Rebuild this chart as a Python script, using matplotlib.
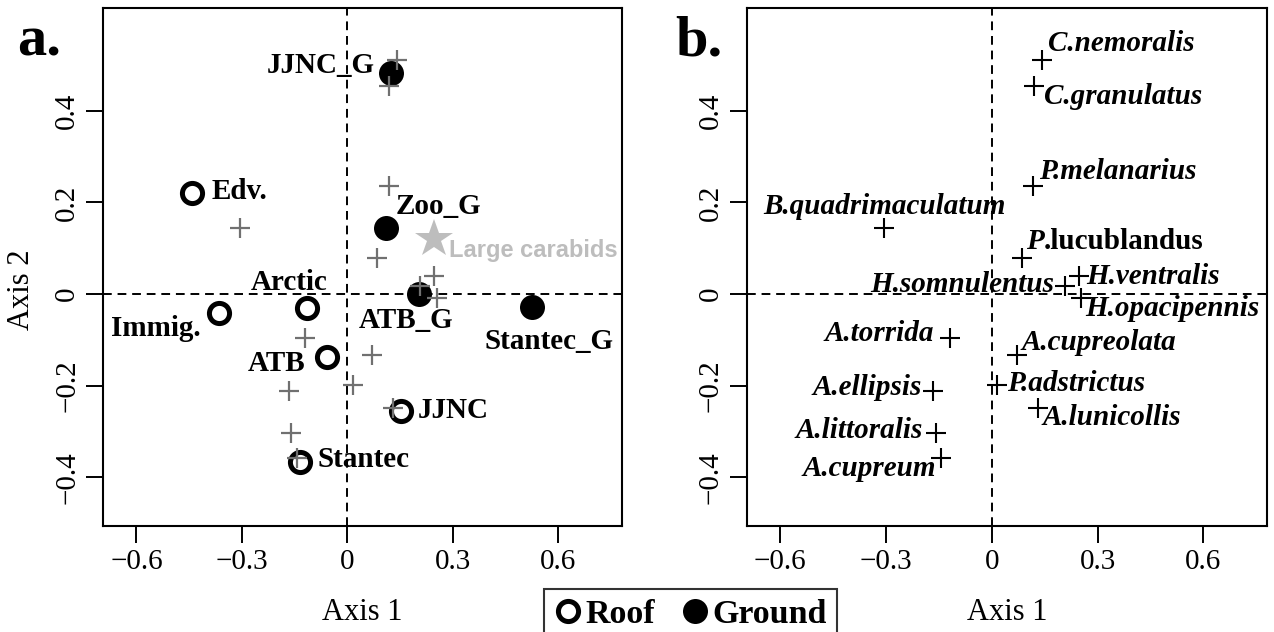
import matplotlib
matplotlib.use("Agg")
import matplotlib.pyplot as plt
from matplotlib.lines import Line2D

plt.rcParams['font.family'] = ['Liberation Serif', 'DejaVu Serif']

# sites (panel a)
roof_names = ["Edv.", "Immig.", "Arctic", "ATB", "JJNC", "Stantec"]
roof_x = [-0.441, -0.366, -0.114, -0.058, 0.153, -0.134]
roof_y = [0.221, -0.042, -0.030, -0.137, -0.256, -0.366]
ground_names = ["JJNC_G", "Zoo_G", "ATB_G", "Stantec_G"]
ground_x = [0.125, 0.111, 0.203, 0.526]
ground_y = [0.482, 0.144, 0.001, -0.029]

# species (panel b, grey crosses in panel a)
species = ["C.nemoralis", "C.granulatus", "P.melanarius", "B.quadrimaculatum",
           "P.lucublandus", "H.somnulentus", "H.ventralis", "H.opacipennis",
           "A.torrida", "A.cupreolata", "A.ellipsis", "P.adstrictus",
           "A.lunicollis", "A.littoralis", "A.cupreum"]
sp_x = [0.141, 0.120, 0.118, -0.305, 0.086, 0.207, 0.248, 0.254,
        -0.119, 0.071, -0.167, 0.015, 0.130, -0.159, -0.143]
sp_y = [0.511, 0.455, 0.235, 0.144, 0.078, 0.018, 0.039, -0.009,
        -0.097, -0.133, -0.211, -0.199, -0.248, -0.303, -0.359]

star_x = [0.246]
star_y = [0.120]
star_label = "Large carabids"

xticks = [-0.6, -0.3, 0, 0.3, 0.6]
xticklabels = ["\u22120.6", "\u22120.3", "0", "0.3", "0.6"]
yticks = [-0.4, -0.2, 0, 0.2, 0.4]
yticklabels = ["\u22120.4", "\u22120.2", "0", "0.2", "0.4"]

# label placement: (dx, dy) in points, horizontal alignment
roof_off = [(14.1, 0.7, 'left'), (-12.7, -10.8, 'right'), (-13, 18, 'center'),
            (-15.5, -4.8, 'right'), (11.7, 0.7, 'left'), (12.7, 1.7, 'left')]
ground_off = [(-11.5, 5.8, 'right'), (6.5, 15.5, 'left'), (-9.1, -19.7, 'center'),
              (12.1, -24.8, 'center')]
sp_off = [(4.3, 12, 'left'), (7.2, -7.7, 'left'), (4, 10.4, 'left'), (0, 15.5, 'center'),
          (2.7, 12, 'left'), (-7.9, 0.7, 'right'), (5.3, 0, 'left'), (2.6, -7.2, 'left'),
          (-11.4, 3.6, 'right'), (3.5, 8.9, 'left'), (-7.6, 2.4, 'right'), (6.9, 1.2, 'left'),
          (3.5, -6.8, 'left'), (-9.4, 1.9, 'right'), (-4, -7.2, 'right')]

XLIM = (-0.695, 0.781)
YLIM = (-0.506, 0.624)

fig = plt.figure(figsize=(12.74, 6.32), dpi=100)
axa = fig.add_axes([103/1274, 1-525.7/632, 518.7/1274, 517.4/632])
axb = fig.add_axes([746.7/1274, 1-525.7/632, 520.6/1274, 517.4/632])

for ax in (axa, axb):
    ax.set_xlim(XLIM)
    ax.set_ylim(YLIM)
    ax.axhline(0, color='black', lw=1.4, ls=(0, (4.5, 3)), zorder=1)
    ax.axvline(0, color='black', lw=1.4, ls=(0, (4.5, 3)), zorder=1)
    ax.set_xticks(xticks)
    ax.set_xticklabels(xticklabels)
    ax.set_yticks(yticks)
    ax.set_yticklabels(yticklabels, rotation=90, va='center')
    ax.tick_params(length=12.5, width=1.4, labelsize=21, pad=4)
    for s in ax.spines.values():
        s.set_linewidth(1.5)
    ax.set_xlabel("Axis 1", fontsize=22)
    ax.xaxis.set_label_coords(0.5, -0.14)

axa.set_ylabel("Axis 2", fontsize=22)
axa.yaxis.set_label_coords(-0.13, 0.456)

# panel a
axa.plot(sp_x, sp_y, ls='none', marker='+', ms=14.4, mew=1.6, color='#707070', zorder=3)
axa.plot(star_x, star_y, ls='none', marker='*', ms=29, color='#bdbdbd', mew=0, zorder=2)
axa.annotate(star_label, (star_x[0], star_y[0]), xytext=(11.2, -8.2), textcoords='offset points',
             ha='left', va='center', fontsize=17, fontweight='bold', color='#bdbdbd',
             family=['Liberation Sans', 'DejaVu Sans'])
axa.plot(roof_x, roof_y, ls='none', marker='o', ms=14.5, mew=3.6, mfc='white', mec='black', zorder=2)
axa.plot(ground_x, ground_y, ls='none', marker='o', ms=18, mew=0, color='black', zorder=2)
for name, x, y, (dx, dy, ha) in zip(roof_names + ground_names, roof_x + ground_x,
                                     roof_y + ground_y, roof_off + ground_off):
    axa.annotate(name, (x, y), xytext=(dx, dy), textcoords='offset points',
                 ha=ha, va='center', fontsize=21, fontweight='bold', zorder=4)

# panel b
axb.plot(sp_x, sp_y, ls='none', marker='+', ms=14.4, mew=1.5, color='black', zorder=3)
for name, x, y, (dx, dy, ha) in zip(species, sp_x, sp_y, sp_off):
    if name == "P.lucublandus":
        t = axb.annotate("P", (x, y), xytext=(dx, dy), textcoords='offset points',
                         ha=ha, va='center', fontsize=21, fontweight='bold', style='italic')
        axb.annotate(".lucublandus", xy=(1, 0), xycoords=t, ha='left', va='bottom',
                     fontsize=21, fontweight='bold')
    else:
        axb.annotate(name, (x, y), xytext=(dx, dy), textcoords='offset points',
                     ha=ha, va='center', fontsize=21, fontweight='bold', style='italic')

fig.text(17/1274, 1-55/632, "a.", fontsize=42, fontweight='bold', va='baseline', ha='left')
fig.text(675/1274, 1-55/632, "b.", fontsize=42, fontweight='bold', va='baseline', ha='left')

handles = [Line2D([], [], ls='none', marker='o', ms=14.5, mew=3.6, mfc='white', mec='black'),
           Line2D([], [], ls='none', marker='o', ms=18, mew=0, color='black')]
leg = fig.legend(handles, ["Roof", "Ground"], loc='upper center', bbox_to_anchor=(0.542, 0.068),
                 ncol=2, frameon=True, fancybox=False, prop={'weight': 'bold', 'size': 24.5},
                 borderpad=0.3, handlelength=0.8, handletextpad=0.1, columnspacing=0.8,
                 borderaxespad=0)
leg.get_frame().set_edgecolor('black')
leg.get_frame().set_linewidth(1.5)

fig.savefig("out.png", dpi=100)
